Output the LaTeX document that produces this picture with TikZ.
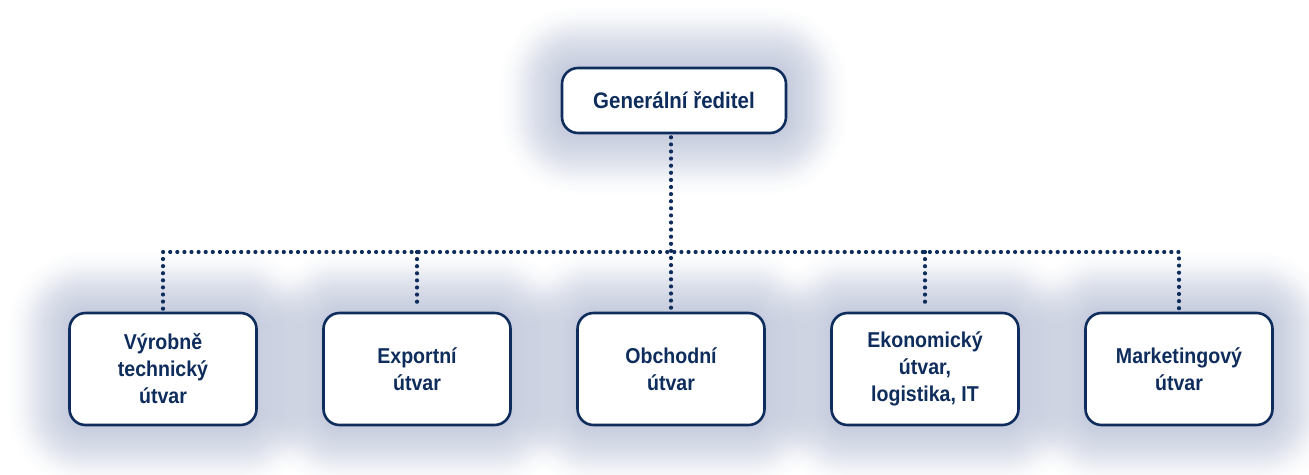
\documentclass[tikz,border=0pt]{standalone}
\usepackage{fontspec}
\newfontfamily\labfont{Liberation Sans Bold}[FakeStretch=0.91]
\definecolor{navy}{HTML}{0E2D5C}
\definecolor{glowc}{HTML}{2E4585}
\tikzset{
  unit/.style={draw=navy, line width=2.6pt, rounded corners=16pt, fill=white,
    minimum width=187pt, minimum height=112pt, inner sep=0pt, align=center,
    text=navy, font=\labfont\fontsize{21.5}{27}\selectfont},
  topunit/.style={unit, minimum width=224pt, minimum height=65pt,
    font=\labfont\fontsize{22.5}{27}\selectfont},
  dotline/.style={navy, line width=4.2pt, line cap=round, dash pattern=on 0pt off 7.1pt}
}
\newcommand{\glowbox}[1]{%
  \foreach \e in {60,57,...,51}{
    \fill[glowc, fill opacity=0.006, rounded corners=16pt+\e pt]
      ([shift={(-\e pt,-\e pt)}]#1.south west) rectangle ([shift={(\e pt,\e pt)}]#1.north east);
  }
  \foreach \e in {48,46,...,2}{
    \fill[glowc, fill opacity=0.013, rounded corners=16pt+\e pt]
      ([shift={(-\e pt,-\e pt)}]#1.south west) rectangle ([shift={(\e pt,\e pt)}]#1.north east);
  }}
\begin{document}
\begin{tikzpicture}[x=1pt,y=1pt]
\useasboundingbox (0,0) rectangle (1309,474);
% invisible placement to get anchors for glow
\path (674,373.5) node[topunit, draw=none, fill=none, text opacity=0] (gt) {Generální ředitel};
\foreach \n/\x in {a/163,b/417,c/671,d/925,e/1179}{
  \path (\x,105) node[unit, draw=none, fill=none, text opacity=0] (g\n) {};
}
\glowbox{gt}
\foreach \n in {a,b,c,d,e}{\glowbox{g\n}}
% nodes
\node[topunit] (top) at (674,373.5) {Generální ředitel};
\node[unit] (u1) at (163,105) {Výrobně\\technický\\útvar};
\node[unit] (u2) at (417,105) {Exportní\\útvar};
\node[unit] (u3) at (671,105) {Obchodní\\útvar};
\node[unit] (u4) at (925,105) {Ekonomický\\útvar,\\logistika, IT};
\node[unit] (u5) at (1179,105) {Marketingový\\útvar};
% connectors
\coordinate (bus) at (0,222);
\draw[dotline] ([yshift=-3pt]top.south -| u3.north) -- ([yshift=3pt]u3.north);
\draw[dotline] ([yshift=3pt]u1.north) -- (u1.north |- bus) -- (u5.north |- bus) -- ([yshift=3pt]u5.north);
\draw[dotline] (u2.north |- bus) -- ([yshift=3pt]u2.north);
\draw[dotline] (u4.north |- bus) -- ([yshift=3pt]u4.north);
\end{tikzpicture}
\end{document}
